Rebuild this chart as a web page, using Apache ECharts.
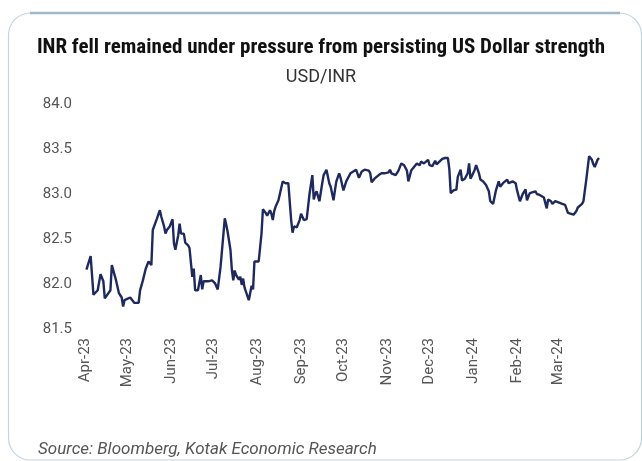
<!DOCTYPE html>
<html>
<head>
<meta charset="utf-8">
<script src="https://cdn.jsdelivr.net/npm/echarts@6/dist/echarts.min.js"></script>
<style>html,body{margin:0;padding:0;background:#fff;}#chart{width:642px;height:461px;}</style>
</head>
<body>
<div id="chart"></div>
<script>
const chartTitle = 'INR fell remained under pressure from persisting US Dollar strength';
const chartSubtitle = 'USD/INR';
const sourceText = 'Source: Bloomberg, Kotak Economic Research';

const dates = [
'2023-04-02','2023-04-05','2023-04-07','2023-04-10','2023-04-12','2023-04-14','2023-04-15','2023-04-19','2023-04-20','2023-04-23',
'2023-04-25','2023-04-27','2023-04-28','2023-04-29','2023-05-03','2023-05-04','2023-05-06','2023-05-09','2023-05-10','2023-05-11',
'2023-05-12','2023-05-14','2023-05-16','2023-05-17','2023-05-18','2023-05-19','2023-05-22','2023-05-24','2023-05-25','2023-05-26',
'2023-05-27','2023-05-28','2023-05-29','2023-05-31','2023-06-02','2023-06-03','2023-06-04','2023-06-06','2023-06-07','2023-06-08',
'2023-06-10','2023-06-11','2023-06-13','2023-06-14','2023-06-16','2023-06-17','2023-06-18','2023-06-20','2023-06-22','2023-06-23',
'2023-06-24','2023-06-27','2023-06-30','2023-07-02','2023-07-04','2023-07-06','2023-07-09','2023-07-10','2023-07-11','2023-07-13',
'2023-07-14','2023-07-15','2023-07-16','2023-07-17','2023-07-19','2023-07-20','2023-07-21','2023-07-22','2023-07-23','2023-07-26',
'2023-07-27','2023-07-28','2023-07-29','2023-07-30','2023-08-02','2023-08-03','2023-08-04','2023-08-05','2023-08-07','2023-08-08',
'2023-08-10','2023-08-11','2023-08-12','2023-08-13','2023-08-14','2023-08-16','2023-08-17','2023-08-19','2023-08-21','2023-08-23',
'2023-08-25','2023-08-26','2023-08-27','2023-08-29','2023-08-31','2023-09-01','2023-09-03','2023-09-05','2023-09-07','2023-09-09',
'2023-09-10','2023-09-11','2023-09-12','2023-09-14','2023-09-16','2023-09-17','2023-09-19','2023-09-21','2023-09-22','2023-09-24',
'2023-09-25','2023-09-26','2023-09-28','2023-09-29','2023-10-01','2023-10-03','2023-10-06','2023-10-08','2023-10-10','2023-10-12',
'2023-10-14','2023-10-16','2023-10-19','2023-10-20','2023-10-21','2023-10-23','2023-10-26','2023-10-28','2023-10-30','2023-11-02',
'2023-11-03','2023-11-04','2023-11-05','2023-11-07','2023-11-09','2023-11-11','2023-11-13','2023-11-15','2023-11-16','2023-11-18',
'2023-11-20','2023-11-22','2023-11-24','2023-11-25','2023-11-27','2023-11-28','2023-11-30','2023-12-01','2023-12-03','2023-12-05',
'2023-12-06','2023-12-10','2023-12-12','2023-12-14','2023-12-15','2023-12-16','2023-12-18','2023-12-20','2023-12-21','2023-12-23',
'2023-12-24','2023-12-26','2023-12-28','2023-12-29','2023-12-30','2023-12-31','2024-01-02','2024-01-03','2024-01-05','2024-01-06',
'2024-01-08','2024-01-10','2024-01-12','2024-01-13','2024-01-15','2024-01-16','2024-01-17','2024-01-19','2024-01-20','2024-01-22',
'2024-01-25','2024-01-26','2024-01-29','2024-01-31','2024-02-01','2024-02-03','2024-02-05','2024-02-07','2024-02-08','2024-02-10',
'2024-02-11','2024-02-14','2024-02-15','2024-02-17','2024-02-20','2024-02-21','2024-02-22','2024-02-23','2024-02-25','2024-02-26',
'2024-02-28','2024-02-29','2024-03-04','2024-03-06','2024-03-08','2024-03-09','2024-03-12','2024-03-14','2024-03-15','2024-03-16',
'2024-03-18','2024-03-19','2024-03-21','2024-03-22','2024-03-23','2024-03-25','2024-03-26','2024-03-27','2024-03-29','2024-03-30'
];

const usdInr = [
82.16,82.31,81.88,81.93,82.11,82.03,81.84,81.93,82.21,82.04,
81.90,81.85,81.75,81.82,81.85,81.86,81.79,81.79,81.93,81.95,
82.04,82.17,82.25,82.27,82.21,82.60,82.73,82.82,82.75,82.73,
82.64,82.56,82.60,82.64,82.72,82.45,82.38,82.54,82.67,82.56,
82.56,82.46,82.43,82.40,82.08,82.17,81.93,81.93,82.10,81.94,
82.03,82.03,82.04,82.01,81.94,82.19,82.73,82.66,82.58,82.38,
82.16,82.04,82.15,82.10,82.05,82.08,81.99,82.06,81.96,81.82,
81.90,81.98,81.94,82.25,82.25,82.25,82.56,82.83,82.79,82.76,
82.82,82.78,82.71,82.81,82.86,82.93,83.00,83.14,83.12,83.12,
82.71,82.57,82.64,82.63,82.71,82.78,82.71,82.72,83.00,83.21,
82.94,83.00,83.03,82.92,83.12,83.21,83.27,83.12,83.08,82.93,
83.04,83.14,83.23,83.18,83.04,83.14,83.23,83.25,83.27,83.18,
83.25,83.27,83.26,83.23,83.13,83.17,83.21,83.23,83.23,83.24,
83.27,83.23,83.24,83.21,83.26,83.34,83.32,83.26,83.14,83.26,
83.30,83.34,83.32,83.36,83.34,83.32,83.38,83.32,83.31,83.37,
83.33,83.39,83.40,83.40,83.28,83.01,83.04,83.05,83.19,83.27,
83.15,83.17,83.23,83.34,83.17,83.20,83.27,83.32,83.23,83.16,
83.14,83.10,83.03,82.92,82.89,82.89,83.04,83.14,83.08,83.12,
83.16,83.12,83.14,83.12,83.04,82.92,83.00,83.05,82.93,83.01,
83.00,83.03,83.00,82.99,82.96,82.95,82.84,82.94,82.92,82.89,
82.92,82.90,82.89,82.88,82.79,82.78,82.77,82.81,82.85,82.84,
82.89,82.92,83.16,83.16,83.42,83.38,83.33,83.30,83.38,83.40
];

const monthTicks = ['2023-04-01','2023-05-01','2023-06-01','2023-07-01','2023-08-01','2023-09-01',
  '2023-10-01','2023-11-01','2023-12-01','2024-01-01','2024-02-01','2024-03-01'];
const monthLabels = ['Apr-23','May-23','Jun-23','Jul-23','Aug-23','Sep-23',
  'Oct-23','Nov-23','Dec-23','Jan-24','Feb-24','Mar-24'];

const yMin = 81.5, yMax = 84.0, yStep = 0.5;

function ts(s) { const p = s.split('-').map(Number); return new Date(p[0], p[1] - 1, p[2]).getTime(); }
const tickTimes = monthTicks.map(ts);

const chart = echarts.init(document.getElementById('chart'), null, { renderer: 'canvas' });
const labelFont = 'Roboto, "Noto Sans", sans-serif';

chart.setOption({
  animation: false,
  backgroundColor: '#ffffff',
  graphic: [
    { type: 'rect', silent: true, z: -1,
      shape: { x: 8.5, y: 13, width: 633, height: 447, r: 22 },
      style: { fill: 'none', stroke: '#c3d4df', lineWidth: 1.2 } },
    { type: 'line', silent: true, z: -1,
      shape: { x1: 30, y1: 13, x2: 620, y2: 13 },
      style: { stroke: '#9fb7c7', lineWidth: 2.5 } },
    { type: 'text', left: 38, top: 441, silent: true,
      style: { text: sourceText, fill: '#555555', font: 'italic 17px Roboto, "Noto Sans", sans-serif' } }
  ],
  title: [
    { text: chartTitle, left: 'center', top: 32,
      textStyle: { fontFamily: '"Roboto Condensed", "Liberation Sans Narrow", "DejaVu Sans Condensed", Roboto, sans-serif', fontWeight: 'bold', fontSize: 21, color: '#111111' } },
    { text: chartSubtitle, left: 'center', top: 63,
      textStyle: { fontFamily: labelFont, fontWeight: 'normal', fontSize: 18, color: '#333333' } }
  ],
  grid: { left: 85, right: 41.6, top: 104, bottom: 132 },
  xAxis: {
    type: 'value',
    min: ts('2023-04-01'),
    max: ts('2024-03-31'),
    axisLine: { show: false },
    axisTick: { show: false },
    splitLine: { show: false },
    axisLabel: {
      customValues: tickTimes,
      rotate: 90,
      margin: 9,
      color: '#555555',
      fontSize: 15,
      fontFamily: labelFont,
      hideOverlap: false,
      formatter: function (v) {
        const i = tickTimes.indexOf(v);
        return i >= 0 ? monthLabels[i] : '';
      }
    }
  },
  yAxis: {
    type: 'value',
    min: yMin, max: yMax, interval: yStep,
    axisLine: { show: false },
    axisTick: { show: false },
    splitLine: { show: false },
    axisLabel: {
      margin: 13,
      color: '#555555',
      fontSize: 15,
      fontFamily: labelFont,
      formatter: function (v) { return v.toFixed(1); }
    }
  },
  series: [{
    type: 'line',
    name: chartSubtitle,
    showSymbol: false,
    symbol: 'none',
    data: dates.map(function (d, i) { return [ts(d), usdInr[i]]; }),
    lineStyle: { color: '#1e2a5e', width: 2.4 }
  }]
});
</script>
</body>
</html>
